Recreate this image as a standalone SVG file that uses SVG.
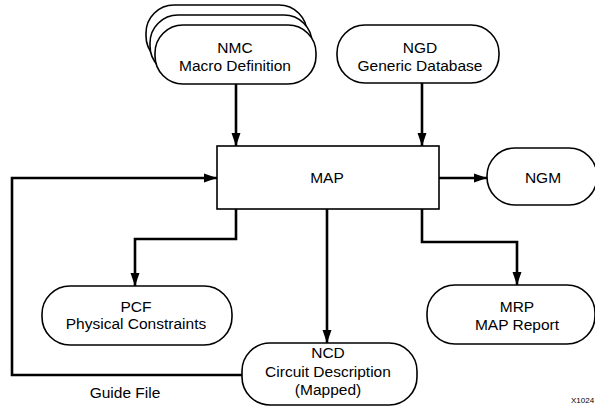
<svg xmlns="http://www.w3.org/2000/svg" width="595" height="406" viewBox="0 0 595 406">
<defs>
<style>
.box{fill:#fff;stroke:#000;stroke-width:1.6}
.t{font-family:"Liberation Sans",Arial,sans-serif;font-size:15.5px;fill:#000;text-anchor:middle}
.c{fill:none;stroke:#000;stroke-width:2.6;marker-end:url(#ah)}
</style>
<marker id="ah" markerUnits="userSpaceOnUse" markerWidth="14" markerHeight="10" refX="13" refY="5" orient="auto">
<path d="M0,0.5 L13,5 L0,9.5 z" fill="#000"/>
</marker>
</defs>
<rect width="595" height="406" fill="#fff"/>
<g id="connectors">
<path class="c" d="M236,84 V146"/>
<path class="c" d="M422,83 V146"/>
<path class="c" d="M439,178 H487"/>
<path class="c" d="M236,209 V239 H135 V286"/>
<path class="c" d="M327,209 V343"/>
<path class="c" d="M422,209 V242 H517 V285"/>
<path class="c" d="M242,375 H12 V178 H217"/>
</g>
<g id="nmc">
<rect class="box" x="146" y="5" width="161" height="59" rx="28"/>
<rect class="box" x="150" y="15" width="162" height="59" rx="28"/>
<rect class="box" x="155" y="25" width="161" height="59" rx="28"/>
<text class="t" x="235" y="53">NMC</text>
<text class="t" x="235" y="71">Macro Definition</text>
</g>
<g id="ngd">
<rect class="box" x="337" y="25" width="162" height="58" rx="28"/>
<text class="t" x="420" y="53">NGD</text>
<text class="t" x="420" y="71">Generic Database</text>
</g>
<g id="map">
<rect class="box" x="217" y="146" width="222" height="63"/>
<text class="t" x="327" y="183">MAP</text>
</g>
<g id="ngm">
<rect class="box" x="487" y="148" width="110" height="57" rx="28"/>
<text class="t" x="543" y="183">NGM</text>
</g>
<g id="pcf">
<rect class="box" x="42" y="286" width="190" height="59" rx="28"/>
<text class="t" x="136" y="312">PCF</text>
<text class="t" x="136" y="329">Physical Constraints</text>
</g>
<g id="mrp">
<rect class="box" x="427" y="285" width="168" height="59" rx="28"/>
<text class="t" x="517" y="312">MRP</text>
<text class="t" x="517" y="330">MAP Report</text>
</g>
<g id="ncd">
<rect class="box" x="242" y="343" width="175" height="62" rx="28"/>
<text class="t" x="328" y="358">NCD</text>
<text class="t" x="328" y="377">Circuit Description</text>
<text class="t" x="328" y="395">(Mapped)</text>
</g>
<text class="t" x="125" y="398">Guide File</text>
<text x="571" y="403" style="font-family:'Liberation Sans',Arial,sans-serif;font-size:8px;fill:#000">X1024</text>
</svg>
